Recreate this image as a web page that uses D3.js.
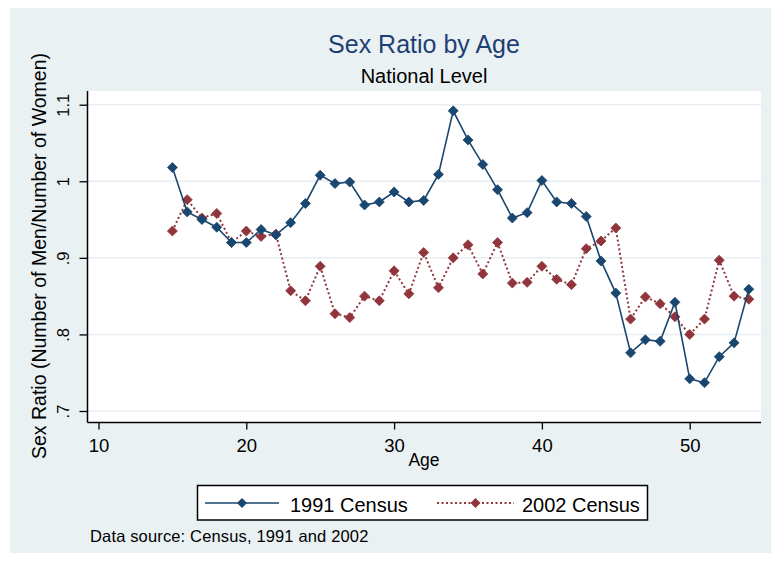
<!DOCTYPE html>
<html>
<head>
<meta charset="utf-8">
<script src="https://cdn.jsdelivr.net/npm/d3@7"></script>
<style>
  html, body { margin: 0; padding: 0; background: #ffffff; }
  svg { display: block; font-family: "Liberation Sans", Arial, sans-serif; }
</style>
</head>
<body>
<svg id="chart" width="771" height="565"></svg>
<script>
// ---- Data ----
const ages = [15,16,17,18,19,20,21,22,23,24,25,26,27,28,29,30,31,32,33,34,35,36,37,38,39,40,41,42,43,44,45,46,47,48,49,50,51,52,53,54];
const ratio1991 = [1.018,0.960,0.950,0.940,0.920,0.920,0.937,0.930,0.946,0.971,1.008,0.997,0.999,0.969,0.973,0.986,0.973,0.975,1.009,1.092,1.054,1.022,0.989,0.952,0.959,1.001,0.973,0.971,0.954,0.896,0.854,0.776,0.793,0.791,0.842,0.742,0.737,0.771,0.789,0.859];
const ratio2002 = [0.935,0.976,0.952,0.958,0.920,0.935,0.928,0.931,0.857,0.844,0.889,0.827,0.822,0.850,0.844,0.883,0.853,0.907,0.861,0.900,0.917,0.879,0.920,0.867,0.868,0.889,0.872,0.865,0.912,0.922,0.939,0.820,0.849,0.840,0.823,0.800,0.820,0.897,0.850,0.846];
const xTicks = [10,20,30,40,50];
const yTicks = [0.7,0.8,0.9,1.0,1.1];
const seriesNames = ["1991 Census","2002 Census"];
const titleText = "Sex Ratio by Age";
const subtitleText = "National Level";
const xTitle = "Age";
const yTitle = "Sex Ratio (Number of Men/Number of Women)";
const noteText = "Data source: Census, 1991 and 2002";

// ---- Layout ----
const svg = d3.select("#chart");
const bg = "#eaf1f3";
const navy = "#1a476f";
const maroon = "#90353b";
const plot = {left: 87.5, right: 761, top: 91, bottom: 422.5};

svg.append("rect").attr("x",10).attr("y",8).attr("width",761).attr("height",545).attr("fill",bg);
svg.append("rect").attr("x",plot.left).attr("y",plot.top)
   .attr("width",plot.right-plot.left).attr("height",plot.bottom-plot.top).attr("fill","#ffffff");

const x = d3.scaleLinear().domain([10,50]).range([98.5,689.7]);
const y = d3.scaleLinear().domain([0.7,1.1]).range([411,104.7]);

// grid lines
svg.append("g").selectAll("line").data(yTicks).join("line")
  .attr("x1",plot.left).attr("x2",plot.right)
  .attr("y1",d=>y(d)).attr("y2",d=>y(d))
  .attr("stroke","#e6eef2").attr("stroke-width",1.5);

// x axis
const xAxis = svg.append("g").attr("transform",`translate(0,${plot.bottom})`)
  .call(d3.axisBottom(x).tickValues(xTicks).tickSize(7).tickSizeOuter(0).tickFormat(d3.format("d")));
xAxis.select(".domain").attr("d",`M${plot.left},0H${plot.right}`).attr("stroke","#000").attr("stroke-width",1.5);
xAxis.selectAll(".tick line").attr("stroke","#000").attr("stroke-width",1.3);
xAxis.selectAll(".tick text").attr("y",29.5).attr("dy",0)
  .attr("font-size",18.5).attr("fill","#000").attr("font-family","Liberation Sans, Arial, sans-serif");

// y axis
const yFmt = d => d3.format("~g")(d).replace(/^0\./,".");
const yAxis = svg.append("g").attr("transform",`translate(${plot.left},0)`)
  .call(d3.axisLeft(y).tickValues(yTicks).tickSize(8).tickSizeOuter(0).tickFormat(yFmt));
yAxis.select(".domain").attr("d",`M0,${plot.top}V${plot.bottom}`).attr("stroke","#000").attr("stroke-width",1.5);
yAxis.selectAll(".tick line").attr("stroke","#000").attr("stroke-width",1.3);
yAxis.selectAll(".tick text")
  .attr("transform","rotate(-90)").attr("x",0).attr("y",-19).attr("dy",0)
  .attr("text-anchor","middle").attr("font-size",16.5).attr("fill","#000")
  .attr("font-family","Liberation Sans, Arial, sans-serif");

// titles
svg.append("text").attr("x",424).attr("y",53).attr("text-anchor","middle")
  .attr("font-size",25).attr("fill","#1f3f73").text(titleText);
svg.append("text").attr("x",424).attr("y",83).attr("text-anchor","middle")
  .attr("font-size",20).attr("fill","#000").text(subtitleText);
svg.append("text").attr("x",424).attr("y",466).attr("text-anchor","middle")
  .attr("font-size",17.5).attr("fill","#000").text(xTitle);
svg.append("text").attr("transform","translate(46,256) rotate(-90)").attr("text-anchor","middle")
  .attr("font-size",19.5).attr("fill","#000").text(yTitle);

// series
const diamond = r => `M0,${-r}L${r},0L0,${r}L${-r},0Z`;
const series = [
  {name: seriesNames[0], values: ratio1991, color: navy, dash: null, width: 1.6},
  {name: seriesNames[1], values: ratio2002, color: maroon, dash: "2,2.5", width: 2}
];
const line = d3.line().x(d=>x(d[0])).y(d=>y(d[1]));

[series[1], series[0]].forEach(s => {
  const pts = ages.map((a,i)=>[a, s.values[i]]);
  svg.append("path").datum(pts).attr("d",line).attr("fill","none")
    .attr("stroke",s.color).attr("stroke-width",s.width)
    .attr("stroke-dasharray",s.dash);
  svg.append("g").selectAll("path").data(pts).join("path")
    .attr("transform",d=>`translate(${x(d[0])},${y(d[1])})`)
    .attr("d",diamond(5)).attr("fill",s.color).attr("stroke",s.color).attr("stroke-width",0.8);
});

// legend
svg.append("rect").attr("x",197.5).attr("y",485.5).attr("width",450).attr("height",34.5)
  .attr("fill","#ffffff").attr("stroke","#000").attr("stroke-width",1.5);
const legendItems = [
  {s: series[0], x1: 205, x2: 279, tx: 290},
  {s: series[1], x1: 437, x2: 514, tx: 522}
];
legendItems.forEach(li => {
  svg.append("line").attr("x1",li.x1).attr("x2",li.x2).attr("y1",503).attr("y2",503)
    .attr("stroke",li.s.color).attr("stroke-width",li.s.width).attr("stroke-dasharray",li.s.dash);
  svg.append("path").attr("transform",`translate(${(li.x1+li.x2)/2},503)`)
    .attr("d",diamond(5)).attr("fill",li.s.color);
  svg.append("text").attr("x",li.tx).attr("y",511.5).attr("font-size",20).attr("fill","#000").text(li.s.name);
});

// note
svg.append("text").attr("x",90).attr("y",542).attr("font-size",16.5).attr("fill","#000")
  .attr("letter-spacing",0.15).text(noteText);
</script>
</body>
</html>
